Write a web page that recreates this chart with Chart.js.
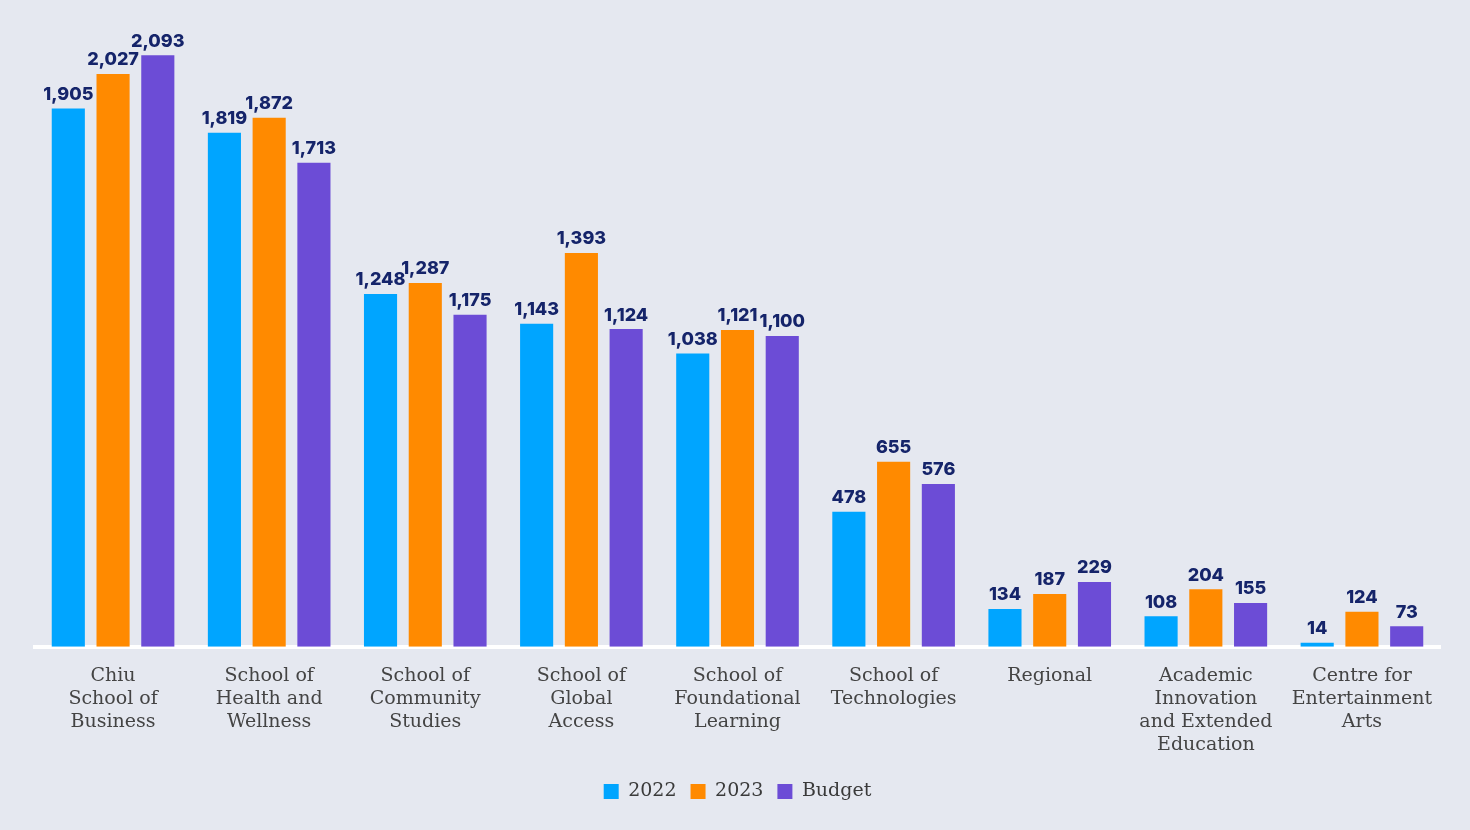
<!DOCTYPE html>
<html>
<head>
<meta charset="utf-8">
<script src="https://cdn.jsdelivr.net/npm/chart.js@4"></script>
<style>
  html, body { margin: 0; padding: 0; background: #e5e8f0; }
  #wrap { width: 1470px; height: 830px; }
</style>
</head>
<body>
<div id="wrap"><canvas id="chart"></canvas></div>
<script>
const categories = [
    ["Chiu", "School of", "Business"],
    ["School of", "Health and", "Wellness"],
    ["School of", "Community", "Studies"],
    ["School of", "Global", "Access"],
    ["School of", "Foundational", "Learning"],
    ["School of", "Technologies"],
    ["Regional"],
    ["Academic", "Innovation", "and Extended", "Education"],
    ["Centre for", "Entertainment", "Arts"]
];
const values2022 = [1905, 1819, 1248, 1143, 1038, 478, 134, 108, 14];
const values2023 = [2027, 1872, 1287, 1393, 1121, 655, 187, 204, 124];
const valuesBudget = [2093, 1713, 1175, 1124, 1100, 576, 229, 155, 73];
const seriesNames = ["2022", "2023", "Budget"];
const colors = ['#00a5ff', '#ff8a00', '#6c4cd6'];

const labelFont = "'DejaVu Serif', 'Liberation Serif', serif";

// draws the number above each bar
const valueLabels = {
    id: 'valueLabels',
    afterDatasetsDraw(chart) {
        const ctx = chart.ctx;
        ctx.save();
        ctx.font = "800 18px 'Inter', sans-serif";
        ctx.fillStyle = '#15246a';
        ctx.textAlign = 'center';
        ctx.textBaseline = 'bottom';
        chart.data.datasets.forEach((ds, i) => {
            chart.getDatasetMeta(i).data.forEach((bar, j) => {
                ctx.fillText(ds.data[j].toLocaleString('en-US'), bar.x, bar.y - 5);
            });
        });
        ctx.restore();
    }
};

const config = {
    type: 'bar',
    data: {
        labels: categories,
        datasets: [
            { label: seriesNames[0], data: values2022, backgroundColor: colors[0] },
            { label: seriesNames[1], data: values2023, backgroundColor: colors[1] },
            { label: seriesNames[2], data: valuesBudget, backgroundColor: colors[2] }
        ]
    },
    options: {
        responsive: true,
        maintainAspectRatio: false,
        animation: false,
        categoryPercentage: 0.86,
        barPercentage: 0.74,
        layout: {
            padding: { top: 25, left: 35, right: 30, bottom: 19 }
        },
        plugins: {
            legend: {
                position: 'bottom',
                labels: {
                    boxWidth: 15,
                    boxHeight: 15,
                    padding: 14,
                    color: '#3a3a3a',
                    font: { family: labelFont, size: 19 }
                }
            },
            tooltip: { enabled: false }
        },
        scales: {
            x: {
                grid: { display: false, drawTicks: false },
                border: { display: true, color: '#ffffff', width: 4 },
                ticks: {
                    autoSkip: false,
                    maxRotation: 0,
                    padding: 18,
                    color: '#444444',
                    font: { family: labelFont, size: 19, lineHeight: 1.2 }
                },
                afterFit: (scale) => { scale.height -= 6; }
            },
            y: {
                display: false,
                min: 0,
                max: 2200
            }
        }
    },
    plugins: [valueLabels]
};

window.onload = function () {
    const ctx = document.getElementById('chart').getContext('2d');
    window.myChart = new Chart(ctx, config);
};
</script>
</body>
</html>
